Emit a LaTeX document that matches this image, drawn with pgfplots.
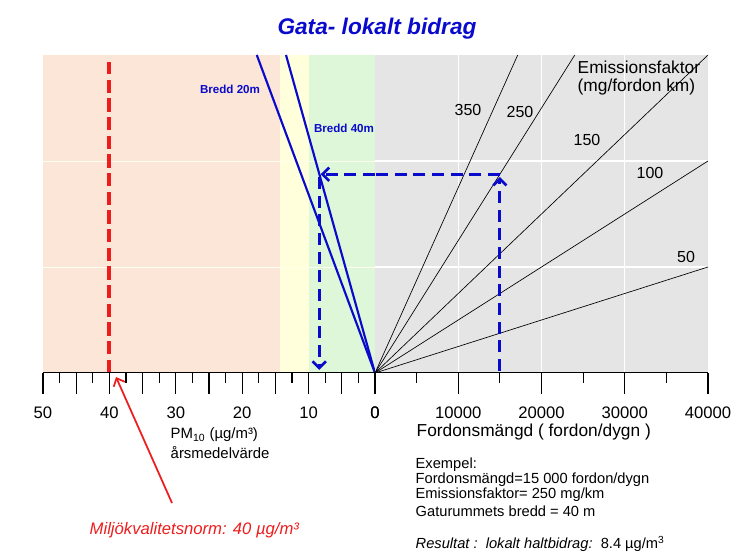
\documentclass[border=0pt]{standalone}
\usepackage{fontspec}
\setmainfont{Liberation Sans}
\usepackage{pgfplots}
\pgfplotsset{compat=1.18}
\usetikzlibrary{arrows.meta}

\definecolor{peach}{HTML}{FCE6D8}
\definecolor{paleyellow}{HTML}{FFFFDC}
\definecolor{palegreen}{HTML}{DEF7D8}
\definecolor{bggray}{HTML}{E5E5E5}
\definecolor{nblue}{HTML}{0A0ACC}
\definecolor{nred}{HTML}{EE1C1C}

\newcommand\fs[1]{\fontsize{#1}{#1}\selectfont}

\pgfplotsset{
  nomo/.style={
    scale only axis, height=238.5pt,
    ymin=0, ymax=3, ytick={1,2}, yticklabels={},
    ytick style={draw=none},
    axis line style={draw=none},
    xtick pos=left, tick align=outside,
    major tick length=15.75pt, minor tick length=7.5pt,
    tick style={black, line width=0.8pt},
    minor x tick num=1,
    ymajorgrids,
    xticklabel style={font=\fs{12.5}, yshift=-6pt},
    /pgf/number format/assume math mode=true,
  },
  bluedash/.style={nblue, line width=2.3pt, dash pattern=on 9pt off 5pt},
  emis/.style={black, line width=0.5pt},
}

\begin{document}
\begin{tikzpicture}
\begin{scope}[x=0.75pt,y=-0.75pt]
\useasboundingbox (0,0) rectangle (743,559);
\coordinate (L) at (43,373);
\coordinate (R) at (375,373);
\end{scope}

% left half: PM10 (reversed scale)
\begin{axis}[nomo, at={(L)}, anchor=south west, width=249pt,
  x dir=reverse, xmin=0, xmax=50,
  xtick={0,5,...,50}, xticklabels={0,,10,,20,,30,,40,,50},
  axis background/.style={fill=peach},
  major grid style={white!60!peach, line width=0.6pt}]
\addplot[fill=paleyellow, draw=none] coordinates {(10,3) (14.3,3)} \closedcycle;
\addplot[fill=palegreen, draw=none] coordinates {(0,3) (10,3)} \closedcycle;
\draw[white!50!paleyellow, line width=0.6pt] (axis cs:50,1) -- (axis cs:0,1);
\draw[white!50!paleyellow, line width=0.6pt] (axis cs:50,2) -- (axis cs:0,2);
% road width lines
\addplot[nblue, line width=1.6pt] coordinates {(0,0) (17.8,3)};
\addplot[nblue, line width=1.6pt] coordinates {(0,0) (13.4,3)};
% air quality standard
\addplot[nred, line width=3pt, dash pattern=on 10pt off 4pt] coordinates {(40,0) (40,2.93)};
% example path
\addplot[bluedash, -{Straight Barb[length=5pt,width=10pt,line width=2pt]}] coordinates {(0,1.875) (8.2,1.875)};
\addplot[bluedash, -{Straight Barb[length=5pt,width=10pt,line width=2pt]}] coordinates {(8.4,1.85) (8.4,0.03)};
\draw[line width=0.9pt] (rel axis cs:0,0) -- (rel axis cs:1,0);
\end{axis}

% right half: traffic volume
\begin{axis}[nomo, at={(R)}, anchor=south west, width=249.75pt,
  xmin=0, xmax=40000, xtick={0,10000,...,40000},
  scaled x ticks=false, /pgf/number format/1000 sep={},
  extra x ticks={10000,20000,30000}, extra x tick labels={},
  extra x tick style={grid=major, major tick length=0pt},
  axis background/.style={fill=bggray},
  major grid style={white, line width=1pt}]
\addplot[emis] coordinates {(0,0) (40000,1)};
\addplot[emis] coordinates {(0,0) (40000,2)};
\addplot[emis] coordinates {(0,0) (40000,3)};
\addplot[emis] coordinates {(0,0) (24000,3)};
\addplot[emis] coordinates {(0,0) (17143,3)};
\addplot[bluedash] coordinates {(15000,1.875) (0,1.875)};
\addplot[bluedash, -{Straight Barb[length=5pt,width=10pt,line width=2pt]}] coordinates {(15000,0.02) (15000,1.85)};
\draw[line width=0.9pt] (rel axis cs:0,0) -- (rel axis cs:1,0);
\end{axis}

% texts
\begin{scope}[x=0.75pt,y=-0.75pt]
\node[anchor=base, nblue, font=\fs{17}\bfseries\itshape] at (377,35) {Gata- lokalt bidrag};
\node[nblue, font=\fs{8.7}\bfseries] at (230,89) {Bredd 20m};
\node[nblue, font=\fs{8.7}\bfseries] at (344,128) {Bredd 40m};
\node[font=\fs{12}] at (468,110) {350};
\node[font=\fs{12}] at (520,112) {250};
\node[font=\fs{12}] at (587,140) {150};
\node[font=\fs{12}] at (650,173) {100};
\node[font=\fs{12}] at (686,257) {50};
\node[anchor=west, font=\fs{13}] at (573,67) {Emissionsfaktor};
\node[anchor=west, font=\fs{13}] at (573,87) {(mg/fordon km)};
\node[anchor=west, font=\fs{11.2}] at (166,435) {PM\textsubscript{10} (µg/m³)};
\node[anchor=west, font=\fs{11.2}] at (166,453) {årsmedelvärde};
\node[anchor=west, font=\fs{13}] at (412,432) {Fordonsmängd ( fordon/dygn )};
\node[anchor=west, font=\fs{11}] at (411,465) {Exempel:};
\node[anchor=west, font=\fs{11}] at (411,480) {Fordonsmängd=15 000 fordon/dygn};
\node[anchor=west, font=\fs{11}] at (411,495) {Emissionsfaktor= 250 mg/km};
\node[anchor=west, font=\fs{11}] at (411,511) {Gaturummets bredd = 40 m};
\node[anchor=west, font=\fs{11}] at (411,544) {\textit{Resultat :\ \ lokalt haltbidrag:}\ \ 8.4 µg/m\textsuperscript{3}};
\node[anchor=west, nred, font=\fs{12.5}\itshape] at (85,530) {Miljökvalitetsnorm: 40 µg/m³};
\draw[nred, line width=1.3pt, -{Straight Barb[length=5pt,width=9pt,line width=1.3pt]}] (172,503) -- (116,377);
\end{scope}
\end{tikzpicture}
\end{document}
